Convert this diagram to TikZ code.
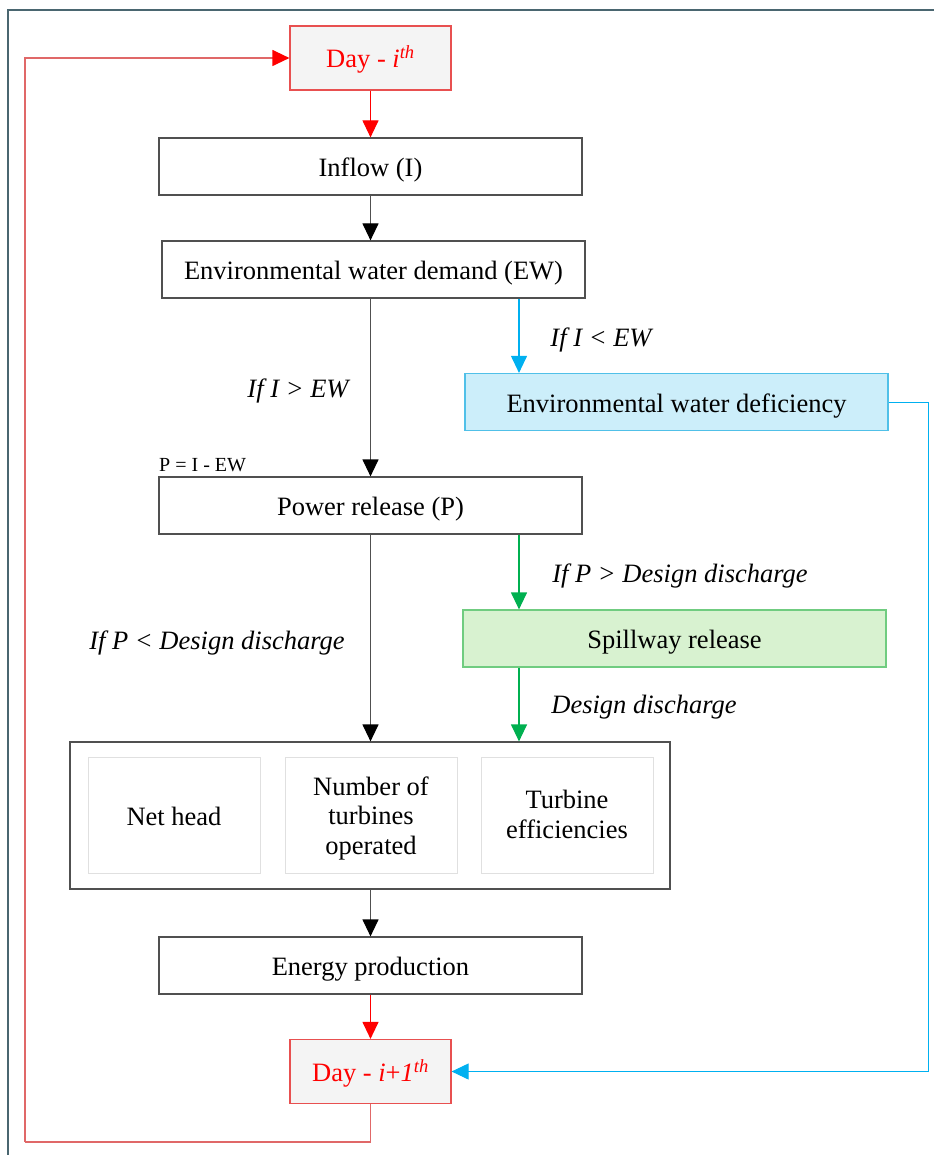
\documentclass[tikz,border=0pt]{standalone}
\usepackage{fontspec}
\setmainfont{Liberation Serif}
\usetikzlibrary{arrows.meta,calc}
\definecolor{framec}{HTML}{4A6670}
\definecolor{boxc}{HTML}{505050}
\definecolor{redc}{HTML}{FF0000}
\definecolor{redbox}{HTML}{E85050}
\definecolor{redloop}{HTML}{E06868}
\definecolor{greyfill}{HTML}{F4F4F4}
\definecolor{bluec}{HTML}{00B0F0}
\definecolor{bluebox}{HTML}{50C0E8}
\definecolor{bluefill}{HTML}{CCEEFA}
\definecolor{greenc}{HTML}{00B050}
\definecolor{greenbox}{HTML}{70CC80}
\definecolor{greenfill}{HTML}{D8F2D0}
\definecolor{innerc}{HTML}{E0E0E0}
\newcommand{\stackcells}[1]{\begin{tabular}[b]{@{}c@{}}#1\end{tabular}}
\tikzset{
  mainfont/.style={font=\fontsize{26.5}{29.5}\selectfont},
  stepbox/.style={draw=boxc, line width=1.2pt, fill=white, minimum width=423pt, minimum height=57pt, inner sep=0pt, text height=20pt, text depth=0pt, mainfont},
  daybox/.style={draw=redbox, line width=1.2pt, fill=greyfill, minimum width=161pt, minimum height=64pt, inner sep=0pt, text height=20pt, text depth=0pt, text=redc, mainfont},
  innerbox/.style={draw=innerc, line width=1pt, fill=white, minimum width=172pt, minimum height=116pt, inner sep=0pt, text depth=0pt, mainfont},
  lbl/.style={font=\fontsize{26.5}{30}\selectfont\itshape, inner sep=0pt, text height=19pt, text depth=0pt},
  blackarr/.style={draw=boxc, line width=1.2pt, arrows={-{Triangle[length=17pt,width=16pt,fill=black,color=black]}}},
  redarr/.style={draw=redc, line width=1.2pt, arrows={-{Triangle[length=17pt,width=16pt]}}},
  bluearr/.style={draw=bluec, line width=1.1pt, arrows={-{Triangle[length=17pt,width=16pt]}}},
  greenarr/.style={draw=greenc, line width=1.2pt, arrows={-{Triangle[length=17pt,width=16pt]}}},
}
\begin{document}
\begin{tikzpicture}[x=1pt,y=-1pt]
\useasboundingbox (0,0) rectangle (934,1155);
% frame
\draw[framec, line width=1.3pt] (8,1155) -- (8,10) -- (934,10);

% nodes
\node[daybox] (dayA) at (370.5,58) {Day - \textit{i}\textsuperscript{\textit{th}}};
\node[stepbox] (inflow) at (370.5,166.5) {Inflow (I)};
\node[stepbox] (ew) at (373.5,269.5) {Environmental water demand (EW)};
\node[stepbox, draw=bluebox, fill=bluefill] (def) at (676.5,402) {Environmental water deficiency};
\node[stepbox] (power) at (370.5,505.5) {Power release (P)};
\node[anchor=south west, inner sep=0pt, font=\fontsize{20}{22}\selectfont] (peq) at (159,472) {P = I - EW};
\node[stepbox, draw=greenbox, fill=greenfill] (spill) at (674.5,638.5) {Spillway release};
\node[draw=boxc, line width=1.2pt, fill=white, minimum width=600pt, minimum height=147pt, inner sep=0pt] (big) at (370,815.5) {};
\node[innerbox, text height=20pt] (nethead) at (174,815) {Net head};
\node[innerbox, text height=78pt] (numturb) at (371,815) {\stackcells{Number of\\turbines\\operated}};
\node[innerbox, text height=46pt] (turbeff) at (567,815) {\stackcells{Turbine\\efficiencies}};
\node[stepbox] (energy) at (370.5,965.5) {Energy production};
\node[daybox] (dayB) at (370.5,1071.5) {Day - \textit{i}+\textit{1}\textsuperscript{\textit{th}}};

% labels
\node[lbl] (l1) at (298,388) {If I > EW};
\node[lbl] (l2) at (601,337) {If I < EW};
\node[lbl] (l3) at (680,573) {If P > Design discharge};
\node[lbl] (l4) at (217,640) {If P < Design discharge};
\node[lbl] (l5) at (644,704) {Design discharge};

% helper coordinates
\coordinate (bx) at (519,0);
\coordinate (lb) at (25,1142);
\coordinate (rb) at (928,0);

% connectors
\draw[redarr] (dayA.south) -- (inflow.north);
\draw[blackarr] (inflow.south) -- (inflow.south |- ew.north);
\draw[blackarr] (ew.south -| inflow.south) -- (power.north);
\draw[bluearr] (ew.south -| bx) -- (def.north -| bx);
\draw[blackarr] (power.south) -- (power.south |- big.north);
\draw[greenarr] (power.south -| bx) -- (spill.north -| bx);
\draw[greenarr] (spill.south -| bx) -- (big.north -| bx);
\draw[blackarr] (big.south -| energy.north) -- (energy.north);
\draw[redarr] (energy.south) -- (dayB.north);
\draw[bluec, line width=1pt, arrows={-{Triangle[length=17pt,width=16pt]}}] (def.east) -- (def.east -| rb) |- (dayB.east);
\draw[redloop, line width=1.2pt] (dayB.south) |- (lb);
\draw[redloop, line width=1.2pt, arrows={-{Triangle[length=17pt,width=16pt,color=redc,fill=redc]}}] (lb) |- (dayA.west);
\end{tikzpicture}
\end{document}
